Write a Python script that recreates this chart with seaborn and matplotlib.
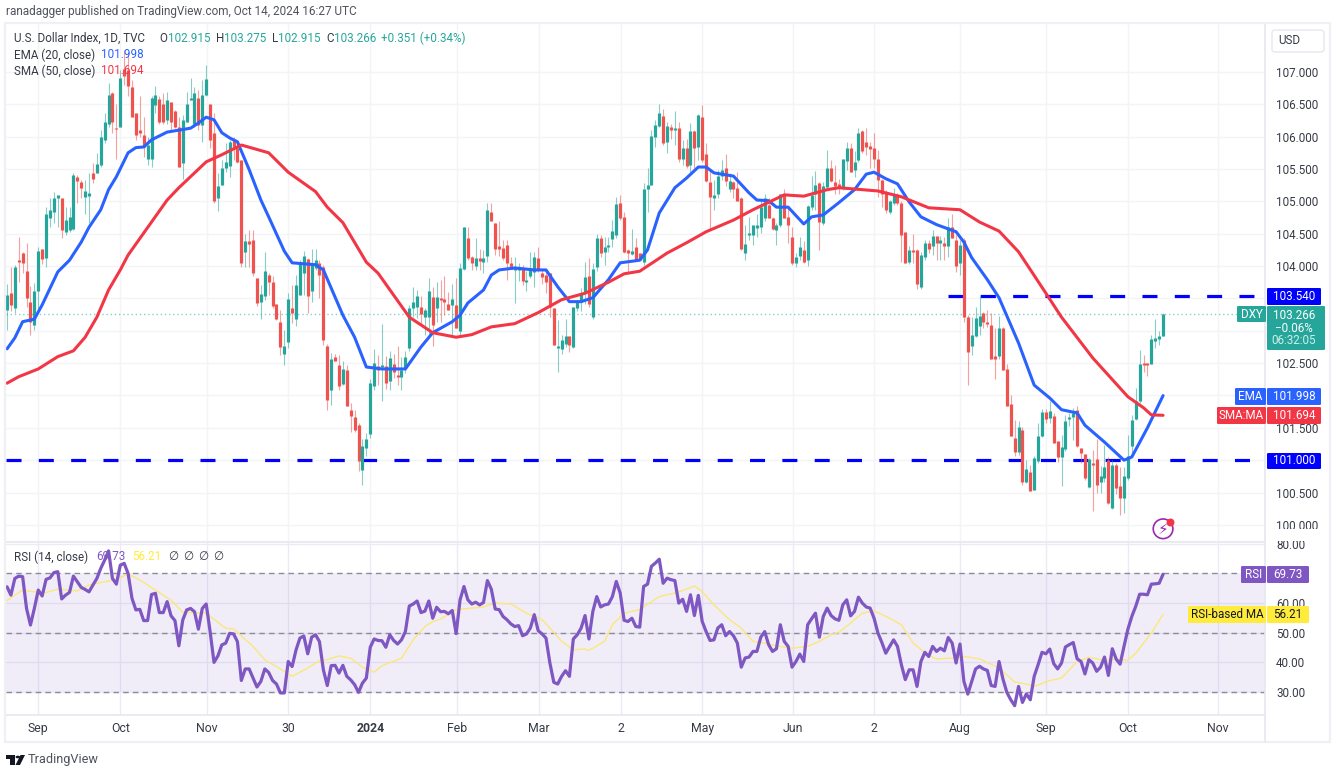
import numpy as np
import pandas as pd
import matplotlib
matplotlib.use("Agg")
import matplotlib.pyplot as plt
import seaborn as sns
from matplotlib.lines import Line2D
from matplotlib.patches import Circle, FancyBboxPatch, Polygon, Rectangle

W, H = 1339, 775

opens = [
    103.32,103.58,103.35,104.10,104.20,103.92,103.45,103.09,103.61,104.27,
    104.12,104.74,104.84,105.06,105.05,104.53,104.56,104.58,105.38,105.30,
    105.07,105.10,105.43,105.43,105.56,105.94,106.20,106.67,106.14,106.15,
    107.05,107.03,106.76,106.36,106.09,106.02,105.66,105.66,106.49,106.58,
    106.51,106.26,106.53,106.40,106.15,105.59,106.23,106.58,106.20,106.59,
    106.18,106.65,106.50,106.05,105.05,105.25,105.51,105.54,105.95,105.82,
    105.64,104.21,104.37,104.41,103.81,103.45,103.53,103.86,103.76,103.42,
    103.13,102.64,102.82,103.35,103.18,103.56,103.89,104.11,103.62,103.97,
    104.05,103.98,102.77,102.09,102.59,102.47,102.18,102.40,101.77,101.66,
    101.55,100.85,101.19,101.41,102.14,102.46,102.44,102.45,102.22,102.48,
    102.30,102.29,102.42,102.73,103.35,103.37,103.37,103.22,103.22,103.52,
    103.35,103.50,103.49,103.42,103.40,103.40,102.99,103.95,104.44,104.14,
    104.00,104.13,104.07,104.16,104.84,104.66,104.29,104.28,104.33,104.04,
    103.95,103.94,103.96,103.76,103.84,103.91,104.13,103.90,103.86,103.89,
    103.35,102.74,102.72,102.80,102.92,102.75,103.35,103.45,103.58,103.85,
    103.22,103.99,104.43,104.21,104.30,104.42,104.48,104.97,104.76,104.25,
    104.20,104.29,104.20,104.07,105.19,105.25,106.00,106.16,106.32,105.92,
    106.13,106.11,106.13,105.66,105.82,105.56,106.09,105.84,106.31,105.73,
    105.30,105.06,105.12,105.39,105.52,105.19,105.30,105.20,105.05,104.20,
    104.48,104.48,104.60,104.61,104.74,104.95,104.74,104.56,104.63,105.11,
    104.76,104.45,104.04,104.16,104.25,104.09,104.92,105.12,105.28,104.66,
    105.22,105.51,105.30,105.27,105.20,105.63,105.83,105.48,105.64,106.08,
    105.92,105.85,105.83,105.66,105.33,105.15,104.84,104.97,105.10,104.98,
    104.53,104.07,104.25,104.25,103.68,104.14,104.35,104.31,104.46,104.36,
    104.35,104.31,104.61,104.41,104.05,104.41,103.22,102.77,102.92,103.07,
    103.27,103.14,103.09,102.61,102.61,103.05,102.41,101.87,101.34,101.12,
    101.47,100.67,100.81,100.54,100.98,101.37,101.74,101.65,101.68,101.29,
    101.05,101.17,101.63,101.67,101.77,101.19,101.10,100.58,100.96,101.02,
    100.67,100.72,101.01,100.26,100.93,100.60,100.42,100.72,101.22,101.63,
    101.91,102.49,102.49,102.48,102.86,102.87,102.915,
]
highs = [
    103.72,103.98,104.02,104.45,104.21,104.35,103.69,103.74,104.29,104.27,
    104.92,105.05,105.15,105.10,105.05,104.92,104.92,105.43,105.41,105.33,
    105.33,105.44,105.59,105.74,106.10,106.36,106.83,106.69,106.51,107.03,
    107.34,107.29,106.87,106.36,106.62,106.31,105.99,106.62,106.78,106.62,
    106.67,106.69,106.53,106.41,106.31,106.33,106.69,106.90,106.77,106.72,
    106.87,107.11,106.51,106.36,105.43,105.64,105.90,105.95,106.00,105.95,
    105.64,104.50,104.55,104.55,103.81,103.71,104.21,103.89,103.85,103.42,
    103.32,103.01,103.58,103.71,103.86,104.10,104.23,104.12,104.26,104.26,
    104.10,104.02,102.80,102.65,102.64,102.63,102.54,102.47,101.88,101.78,
    101.58,101.32,101.42,102.25,102.72,102.63,103.10,102.61,102.68,102.64,
    102.77,102.60,102.68,103.40,103.68,103.63,103.54,103.35,103.81,103.68,
    103.76,103.79,103.84,103.60,103.73,103.81,104.04,104.61,104.60,104.16,
    104.43,104.27,104.25,104.97,104.98,104.66,104.69,104.40,104.40,104.14,
    104.14,104.05,104.02,103.93,104.22,104.22,104.29,103.96,103.94,103.89,
    103.35,103.17,102.93,103.18,102.92,103.37,103.48,103.66,104.06,104.13,
    104.04,104.49,104.48,104.45,104.45,104.71,105.07,105.10,104.84,104.26,
    104.57,104.43,104.20,105.28,105.51,106.10,106.26,106.51,106.42,106.22,
    106.19,106.40,106.23,105.95,105.97,106.21,106.10,106.35,106.49,105.90,
    105.48,105.33,105.48,105.64,105.73,105.43,105.32,105.46,105.07,104.63,
    104.76,104.63,104.81,105.02,105.11,105.05,104.76,104.66,105.12,105.19,
    104.92,104.61,104.20,104.45,104.38,104.94,105.39,105.47,105.30,105.30,
    105.80,105.64,105.56,105.35,105.66,105.91,105.90,105.78,106.13,106.10,
    106.13,105.92,106.05,105.80,105.35,105.17,105.02,105.20,105.13,105.00,
    104.53,104.31,104.50,104.27,104.22,104.40,104.41,104.55,104.46,104.46,
    104.45,104.75,104.80,104.48,104.40,104.43,103.24,103.22,103.37,103.55,
    103.29,103.32,103.27,103.05,103.23,103.06,102.48,102.01,101.62,101.60,
    101.52,101.01,100.93,101.06,101.57,101.79,101.79,101.91,101.73,101.29,
    101.39,101.70,101.73,101.81,101.84,101.19,101.10,101.03,101.15,101.32,
    100.91,101.24,101.05,101.01,100.96,100.90,100.90,101.39,101.70,102.11,
    102.70,102.63,102.50,102.94,103.18,102.99,103.275,
]
lows = [
    103.01,103.30,103.27,103.75,103.89,103.37,102.94,103.01,103.32,104.03,
    103.99,104.61,104.66,104.61,104.43,104.48,104.53,104.56,104.97,105.05,
    104.81,104.66,105.28,105.43,105.53,105.90,106.15,106.05,105.66,106.15,
    106.80,106.62,106.31,105.95,106.00,105.69,105.56,105.53,106.36,106.20,
    106.20,106.20,106.08,106.13,105.53,105.35,106.23,106.57,106.15,106.10,
    105.92,106.62,105.82,104.97,104.85,105.25,105.46,105.38,105.64,105.59,
    103.99,103.99,103.99,103.84,103.38,103.18,103.48,103.56,103.35,103.17,
    102.63,102.47,102.73,103.12,103.08,103.56,103.56,103.27,103.44,103.94,
    103.50,102.78,101.78,101.85,102.53,102.09,102.16,101.83,101.43,101.44,
    100.84,100.62,101.06,101.34,102.08,102.16,101.91,102.10,102.09,102.27,
    102.16,102.09,102.34,102.68,103.22,103.19,103.09,102.93,102.93,102.77,
    103.14,103.14,103.24,103.32,102.93,103.04,102.91,103.94,104.09,103.94,
    103.94,103.94,103.90,104.07,104.69,104.17,104.16,104.09,103.78,103.95,
    103.43,103.77,103.71,103.61,103.81,103.68,103.91,103.73,103.59,103.22,
    102.78,102.37,102.64,102.75,102.67,102.74,103.30,103.30,103.42,103.37,
    103.18,103.92,104.14,104.02,104.22,104.30,104.43,104.71,104.20,103.91,
    104.17,104.09,104.09,104.02,104.84,105.25,105.84,106.15,105.87,105.74,
    105.97,105.87,105.61,105.56,105.51,105.43,105.51,105.64,105.61,105.30,
    104.56,104.87,105.05,105.33,105.23,105.15,105.05,105.00,104.25,104.09,
    104.40,104.33,104.45,104.51,104.69,104.74,104.56,104.33,104.61,104.74,
    104.35,104.02,103.99,104.09,104.04,104.00,104.87,104.87,104.25,104.63,
    105.20,105.30,105.12,105.12,105.17,105.48,105.46,105.38,105.61,105.74,
    105.71,105.51,105.51,105.07,104.92,104.82,104.80,104.94,104.94,104.07,
    104.04,104.03,104.04,103.65,103.65,104.09,104.20,104.17,104.10,104.09,
    104.09,104.14,104.43,103.91,103.86,103.14,102.16,102.63,102.91,102.93,
    103.04,103.06,102.57,102.26,102.57,102.39,101.83,101.37,101.06,101.08,
    100.61,100.65,100.52,100.54,100.96,101.36,101.57,101.57,101.26,100.97,
    100.60,101.14,101.53,101.31,101.21,100.96,100.70,100.57,100.21,100.50,
    100.49,100.67,100.33,100.24,100.47,100.16,100.18,100.70,101.06,101.62,
    101.88,102.37,102.30,102.48,102.73,102.78,102.915,
]
closes = [
    103.56,103.40,103.98,104.06,104.05,103.50,103.14,103.62,104.24,104.11,
    104.81,104.87,105.05,105.08,104.56,104.71,104.76,105.41,105.31,105.20,
    105.16,105.12,105.35,105.58,105.99,106.23,106.65,106.23,106.11,106.90,
    106.93,106.78,106.31,106.02,106.07,105.84,105.87,106.59,106.64,106.23,
    106.23,106.57,106.23,106.15,105.53,106.26,106.51,106.59,106.67,106.18,
    106.65,106.89,105.95,105.00,105.23,105.51,105.60,105.92,105.84,105.61,
    104.04,104.39,104.35,103.90,103.43,103.57,103.93,103.76,103.39,103.18,
    102.75,102.77,103.49,103.27,103.71,104.06,104.15,103.53,104.02,104.10,
    103.86,102.86,101.93,102.56,102.54,102.15,102.41,101.84,101.69,101.46,
    100.98,101.22,101.33,102.19,102.50,102.40,102.47,102.20,102.58,102.36,
    102.29,102.39,102.60,103.35,103.45,103.54,103.26,103.32,103.61,103.09,
    103.52,103.48,103.45,103.32,103.49,103.04,103.97,104.60,104.12,104.04,
    104.13,104.08,104.12,104.86,104.70,104.27,104.27,104.13,104.04,103.95,
    103.96,103.97,103.77,103.79,103.94,104.14,103.94,103.83,103.76,103.37,
    102.78,102.75,102.85,102.92,102.78,103.36,103.44,103.58,103.83,103.42,
    103.96,104.43,104.20,104.30,104.31,104.54,104.96,104.74,104.21,104.20,
    104.22,104.09,104.09,105.19,105.25,106.01,106.18,106.37,105.90,106.16,
    106.11,106.12,105.66,105.82,105.55,106.09,105.82,106.33,105.64,105.32,
    105.06,105.08,105.39,105.48,105.32,105.32,105.19,105.01,104.27,104.34,
    104.51,104.63,104.62,104.92,105.05,104.74,104.58,104.63,105.11,104.75,
    104.63,104.04,104.14,104.30,104.07,104.93,105.10,105.25,104.68,105.24,
    105.52,105.32,105.23,105.20,105.65,105.83,105.46,105.61,106.05,105.78,
    105.84,105.81,105.66,105.33,105.12,104.86,105.01,105.11,104.98,104.48,
    104.05,104.25,104.22,103.72,104.17,104.35,104.27,104.46,104.36,104.40,
    104.31,104.60,104.44,104.00,104.33,103.22,102.67,102.93,103.19,103.23,
    103.13,103.11,102.57,102.56,103.05,102.39,101.83,101.37,101.12,101.51,
    100.67,100.86,100.53,101.03,101.38,101.74,101.64,101.76,101.27,101.05,
    101.21,101.61,101.67,101.73,101.22,101.11,100.72,101.02,100.93,100.62,
    100.75,100.90,100.34,100.93,100.57,100.42,100.76,101.07,101.62,101.92,
    102.49,102.48,102.48,102.87,102.88,102.92,103.266,
]

ema_bars = [0,2,4,7,9,13,16,19,21,24,26,28,31,33,35,37,41,44,47,49,51,53,55,57,59,62,65,67,71,73,
            79,81,83,86,89,92,96,102,106,109,114,116,118,122,124,126,130,135,138,141,144,147,150,154,157,162,164,167,171,174,
            177,179,181,186,190,192,195,197,200,204,206,209,213,217,220,222,225,228,231,234,238,243,245,247,251,254,259,263,267,270,
            274,276,281,286,288,292,296]
ema_vals = [102.72,102.89,103.14,103.18,103.40,103.91,104.09,104.37,104.60,104.87,105.18,105.38,105.75,105.83,105.84,105.95,106.07,106.10,106.13,106.21,
            106.30,106.26,106.06,105.98,105.92,105.49,105.02,104.76,104.23,104.05,104.02,103.94,103.66,103.24,102.90,102.44,102.41,102.41,102.75,102.97,
            103.14,103.24,103.43,103.63,103.86,103.94,103.97,103.94,103.94,103.68,103.45,103.45,103.51,103.79,104.05,104.09,104.25,104.82,105.21,105.36,
            105.53,105.53,105.44,105.39,105.13,105.02,105.01,104.91,104.91,104.65,104.76,104.79,104.98,105.18,105.42,105.45,105.35,105.27,104.99,104.76,
            104.64,104.53,104.37,104.13,103.79,103.51,102.81,102.16,101.96,101.78,101.73,101.54,101.28,101.00,101.05,101.50,101.998]

sma_bars = [0,3,8,13,17,20,23,26,29,31,35,41,44,51,55,60,67,72,79,82,86,92,95,101,103,109,115,119,124,130,
            136,142,148,154,158,162,169,174,179,186,191,199,204,210,213,223,229,236,244,249,254,259,266,270,278,287,291,293,296]
sma_vals = [102.19,102.29,102.41,102.60,102.69,102.90,103.21,103.63,103.94,104.17,104.51,105.02,105.21,105.61,105.72,105.87,105.75,105.45,105.15,104.91,
            104.67,104.06,103.89,103.38,103.21,102.97,102.90,102.94,103.06,103.11,103.28,103.48,103.58,103.75,103.88,103.92,104.20,104.36,104.53,104.71,
            104.87,105.10,105.08,105.18,105.21,105.16,105.07,104.90,104.87,104.68,104.54,104.22,103.58,103.21,102.58,101.98,101.81,101.70,101.694]

rsi_vals = [
    65.5,62.7,68.3,69.1,68.9,58.2,52.6,58.2,64.4,62.4,
    68.0,68.5,70.3,70.6,61.4,62.7,63.6,69.1,67.2,65.3,
    64.6,63.8,66.1,68.3,71.7,74.5,77.6,68.3,66.4,72.8,
    73.4,70.0,61.6,57.7,57.9,54.1,54.1,62.9,63.3,56.8,
    56.8,60.5,55.7,54.1,45.6,54.3,57.7,58.2,57.1,51.2,
    58.2,59.7,50.4,40.0,42.2,45.9,46.5,49.8,49.6,47.0,
    33.9,37.8,37.8,34.7,31.7,33.6,37.8,36.6,33.9,32.7,
    29.7,29.7,40.3,38.6,44.2,48.2,48.9,42.9,48.5,49.3,
    47.0,37.5,32.2,38.9,39.0,36.4,39.0,35.3,34.1,32.5,
    29.9,33.0,34.7,45.1,47.9,47.4,47.3,45.1,49.3,47.4,
    46.2,47.6,50.4,59.0,59.7,60.7,56.8,57.3,60.7,54.9,
    58.6,57.1,57.2,56.4,57.5,49.7,61.1,65.6,61.1,59.7,
    60.3,59.4,60.2,67.6,64.7,58.0,57.8,55.5,54.4,53.0,
    52.1,52.4,49.0,49.6,51.6,56.1,50.7,49.6,48.2,39.8,
    33.3,32.7,35.3,37.2,35.3,47.9,49.3,51.6,55.8,47.9,
    57.2,62.2,58.7,59.4,59.7,62.2,67.3,63.4,54.2,53.8,
    54.9,52.1,51.9,65.6,66.4,72.4,73.5,74.8,66.7,68.4,
    67.9,67.6,60.0,61.3,57.2,62.8,55.8,62.6,53.8,50.4,
    47.4,47.6,51.6,52.7,49.0,50.4,49.0,46.5,38.4,41.5,
    41.8,43.7,43.7,48.5,50.4,46.0,43.7,44.6,52.7,47.1,
    45.4,38.4,40.3,42.8,40.3,52.7,54.7,56.6,48.5,55.5,
    58.3,55.8,54.7,54.2,59.4,61.1,55.7,57.2,62.0,60.0,
    58.7,58.3,54.9,49.9,46.7,43.1,45.4,47.6,45.4,39.2,
    34.2,37.5,37.5,31.9,40.3,43.4,42.0,45.4,43.7,44.8,
    43.9,48.4,46.5,39.8,46.2,33.6,29.3,33.6,37.8,38.7,
    37.8,37.3,32.2,31.9,40.3,34.4,29.9,27.4,25.4,31.9,
    26.5,29.4,27.4,35.3,39.2,43.4,42.9,44.5,39.6,37.8,
    39.8,45.2,46.0,46.7,41.2,40.3,36.1,40.9,39.8,37.0,
    38.4,41.8,35.6,44.6,41.1,39.4,45.4,51.2,55.5,58.9,
    63.0,63.0,62.8,66.4,66.5,66.7,69.73,
]

rsi_ma_bars = [0,2,4,7,10,13,18,21,25,28,31,34,38,42,45,51,56,58,63,66,69,73,77,80,82,85,88,91,94,96,
               101,104,107,109,111,115,122,125,129,133,137,139,142,145,148,149,153,155,158,162,167,171,174,176,178,181,185,188,191,194,
               197,201,205,208,211,213,216,219,222,226,229,232,236,238,243,245,249,254,258,261,263,267,270,274,277,281,284,287,289,293,296]
rsi_ma_vals = [60.8,62.7,64.4,63.8,63.6,64.7,64.1,66.1,67.2,68.0,69.8,67.8,64.4,61.0,56.9,56.6,51.5,51.3,45.4,40.9,
               38.6,35.3,38.1,40.6,40.9,42.2,41.4,38.4,36.7,38.9,41.4,47.6,52.1,53.8,54.6,57.8,58.7,60.0,59.7,56.6,
               54.4,51.6,47.1,44.3,44.5,44.0,47.1,52.7,56.6,57.8,62.2,63.4,64.7,65.8,63.9,59.4,54.4,51.6,47.1,46.5,
               45.6,44.8,45.4,47.1,49.3,50.1,53.3,56.6,57.4,54.9,52.7,46.5,42.2,41.2,41.5,42.0,41.2,38.1,33.4,32.7,
               31.9,33.9,34.7,40.3,41.7,40.7,41.1,40.7,43.1,49.9,56.21]

price_ticks = [100.0,100.5,101.0,101.5,102.0,102.5,103.0,103.5,104.0,104.5,105.0,105.5,106.0,106.5,107.0]
hidden_price_ticks = [101.0, 102.0, 103.0, 103.5]
rsi_ticks = [30, 40, 50, 60, 80]
time_ticks = [8, 29, 51.2, 72, 93, 115.2, 136.2, 157.2, 178, 201.2, 222, 244, 266, 287, 310]
time_labels = ["Sep", "Oct", "Nov", "30", "2024", "Feb", "Mar", "2", "May", "Jun", "2", "Aug", "Sep", "Oct", "Nov"]

UP = "#26a69a"
DOWN = "#ef5350"
EMA_COL = "#2962ff"
SMA_COL = "#f23645"
RSI_COL = "#7e57c2"
MA_COL = "#ffeb3b"
LEVEL = "#0000ff"
GRID = "#f3f4f8"
BORDER = "#e6e8ef"
TXT = "#363a45"
FONT = ["Roboto", "DejaVu Sans"]
SIZE = 8.4

sns.set_theme(style="white")
plt.rcParams["font.family"] = FONT


def plot_candles(ax):
    o, h, l, c = map(np.array, (opens, highs, lows, closes))
    x = np.arange(len(o))
    cols = np.where(c >= o, UP, DOWN)
    ax.vlines(x, l, h, colors=cols, linewidth=0.8, alpha=0.55, zorder=3)
    top = np.maximum(o, c)
    bot = np.minimum(o, c)
    thin = top - bot < 0.025
    top = np.where(thin, top + 0.012, top)
    bot = np.where(thin, bot - 0.012, bot)
    ax.vlines(x, bot, top, colors=cols, linewidth=2.3, zorder=4)


def flag(x0, y0, x1, y1, color):
    fig.add_artist(FancyBboxPatch((x0 / W, 1 - y1 / H), (x1 - x0) / W, (y1 - y0) / H, transform=fig.transFigure,
                                  boxstyle="round,pad=0,rounding_size=0.0012", facecolor=color, edgecolor="none", zorder=5))


def label(x, y, s, color=TXT, size=SIZE, ha="left", **kw):
    fig.text(x / W, 1 - y / H, s, color=color, fontsize=size, ha=ha, va="center", zorder=6, **kw)


fig = plt.figure(figsize=(W / 100, H / 100), dpi=100, facecolor="white")
ax = fig.add_axes([6 / W, 1 - 542 / H, 1259 / W, 518 / H])
ax_rsi = fig.add_axes([6 / W, 1 - 715 / H, 1259 / W, 172 / H], sharex=ax)

# price pane
ax.set_xlim(-0.26, 322.1)
ax.set_ylim(99.736, 107.74)
ax.grid(True, color=GRID, linewidth=1, zorder=0)
level_df = pd.DataFrame({"x": [-0.26, 322.1, 241, 322.1], "y": [101.0, 101.0, 103.54, 103.54], "level": ["a", "a", "b", "b"]})
sns.lineplot(data=level_df, x="x", y="y", units="level", estimator=None, color=LEVEL, linewidth=2.3,
             dashes=False, ax=ax, zorder=2)
for ln in ax.lines:
    ln.set_dashes((4.7, 5.42))
ax.axhline(103.266, color=UP, linewidth=1, linestyle=(0, (1, 2)), alpha=0.55, zorder=2)
plot_candles(ax)
sns.lineplot(x=ema_bars, y=ema_vals, color=EMA_COL, linewidth=2.2, estimator=None, ax=ax, zorder=5)
sns.lineplot(x=sma_bars, y=sma_vals, color=SMA_COL, linewidth=2.2, estimator=None, ax=ax, zorder=5)
ax.scatter([296], [99.94], s=200, facecolors="none", edgecolors="#9c27b0", linewidths=1.2, zorder=6)
ax.scatter([297.8], [100.05], s=22, color=SMA_COL, zorder=7)
ax.text(296, 99.94, "\u26a1", color="#9c27b0", fontsize=11, family="DejaVu Sans", ha="center", va="center", zorder=6)

ax.yaxis.tick_right()
ax.set_yticks(price_ticks)
ax.set_yticklabels(["" if t in hidden_price_ticks else f"{t:.3f}" for t in price_ticks])
ax.tick_params(axis="y", length=0, labelsize=SIZE, pad=8, labelcolor=TXT)
ax.tick_params(axis="x", length=0, labelbottom=False)
ax.set_xlabel("")
ax.set_ylabel("")

# rsi pane
ax_rsi.set_ylim(22.26, 80.27)
ax_rsi.axhspan(30, 70, color=RSI_COL, alpha=0.1, linewidth=0, zorder=1)
ax_rsi.grid(True, color="#eceaf4", linewidth=1, zorder=1.5)
for lvl in (30, 50, 70):
    ax_rsi.axhline(lvl, color="#8a8d96", linewidth=1, linestyle=(0, (4, 3)), zorder=2)
sns.lineplot(x=rsi_ma_bars, y=rsi_ma_vals, color="#fbe77a", linewidth=1, estimator=None, ax=ax_rsi, zorder=3)
sns.lineplot(x=np.arange(len(rsi_vals)), y=rsi_vals, color=RSI_COL, linewidth=2.3, estimator=None, ax=ax_rsi, zorder=4)
ax_rsi.yaxis.tick_right()
ax_rsi.set_yticks(rsi_ticks)
ax_rsi.set_yticklabels([f"{t}.00" for t in rsi_ticks])
ax_rsi.tick_params(axis="y", length=0, labelsize=SIZE, pad=8, labelcolor=TXT)
ax_rsi.set_xticks(time_ticks)
ax_rsi.set_xticklabels(time_labels)
ax_rsi.get_xticklabels()[4].set_fontweight("bold")
ax_rsi.tick_params(axis="x", length=0, labelsize=SIZE + 0.4, pad=5, labelcolor=TXT)
ax.grid(True, axis="x", color=GRID, linewidth=1)
ax_rsi.set_xlabel("")
ax_rsi.set_ylabel("")

for a in (ax, ax_rsi):
    for name, sp in a.spines.items():
        sp.set_visible(name in ("right", "bottom"))
        sp.set_color(BORDER)
        sp.set_linewidth(1.2)

# hide the cut off part of the 80.00 label
fig.add_artist(Rectangle((1268 / W, 1 - 541 / H), 60 / W, 12 / H, transform=fig.transFigure,
                         facecolor="white", edgecolor="none", zorder=3))

# outer frame
fig.add_artist(Rectangle((5 / W, 1 - 742 / H), 1325 / W, 719 / H, transform=fig.transFigure,
                         facecolor="none", edgecolor="#eef0f5", linewidth=1.6, zorder=4))
fig.add_artist(Line2D([1265 / W, 1265 / W], [1 - 742 / H, 1 - 715 / H], color=BORDER, linewidth=1.2, zorder=4))

# header and legend text
label(6, 11, "ranadagger published on TradingView.com, Oct 14, 2024 16:27 UTC", color="#50535e", size=8.5)
label(14, 38, "U.S. Dollar Index, 1D, TVC")
for x, s in [(159, "O"), (216, "H"), (272, "L"), (326, "C")]:
    label(x, 38, s)
for x, s in [(168, "102.915"), (224, "103.275"), (278, "102.915"), (334, "103.266"), (381, "+0.351 (+0.34%)")]:
    label(x, 38, s, color=UP)
label(14, 55, "EMA (20, close)")
label(101, 55, "101.998", color=EMA_COL)
label(14, 71, "SMA (50, close)")
label(101, 71, "101.694", color=SMA_COL)
label(14, 557, "RSI (14, close)")
label(96, 557, "69.73", color=RSI_COL)
label(132, 557, "56.21", color=MA_COL)
for x in (168, 183, 198, 213):
    label(x, 557, "\u2205")

# usd button
fig.add_artist(FancyBboxPatch((1272 / W, 1 - 52 / H), 52 / W, 22 / H, transform=fig.transFigure,
                              boxstyle="round,pad=0,rounding_size=0.003", facecolor="white",
                              edgecolor=BORDER, linewidth=1, zorder=5))
label(1278, 41, "USD")

# price scale flags
flag(1267, 288, 1321, 305, LEVEL)
label(1294, 296.5, "103.540", color="white", ha="center")
flag(1237, 306, 1266, 322, UP)
label(1251.5, 314, "DXY", color="white", ha="center")
flag(1267, 306, 1325, 350, UP)
label(1294, 315, "103.266", color="white", ha="center")
label(1294, 328, "\u22120.06%", color="white", ha="center")
label(1294, 341, "06:32:05", color="#cfeeea", ha="center")
flag(1235, 388, 1266, 405, EMA_COL)
label(1250.5, 396.5, "EMA", color="white", ha="center")
flag(1267, 388, 1321, 405, EMA_COL)
label(1294, 396.5, "101.998", color="white", ha="center")
flag(1217, 407, 1266, 424, SMA_COL)
label(1241.5, 415.5, "SMA:MA", color="white", ha="center")
flag(1267, 407, 1321, 424, SMA_COL)
label(1294, 415.5, "101.694", color="white", ha="center")
flag(1267, 453, 1321, 469, LEVEL)
label(1294, 461, "101.000", color="white", ha="center")
flag(1241, 566, 1266, 583, RSI_COL)
label(1253.5, 574.5, "RSI", color="white", ha="center")
flag(1267, 566, 1309, 583, RSI_COL)
label(1288, 574.5, "69.73", color="white", ha="center")
flag(1188, 606, 1266, 623, MA_COL)
label(1227, 614.5, "RSI-based MA", color="#131722", ha="center")
flag(1267, 606, 1309, 623, MA_COL)
label(1288, 614.5, "56.21", color="#131722", ha="center")

# footer logo
LOGO = "#131722"
fig.add_artist(Polygon([(6 / W, 1 - 755 / H), (15 / W, 1 - 755 / H), (15 / W, 1 - 765 / H), (10 / W, 1 - 765 / H),
                        (10 / W, 1 - 759 / H), (6 / W, 1 - 759 / H)], transform=fig.transFigure, facecolor=LOGO, edgecolor="none"))
fig.add_artist(Circle((17.8 / W, 1 - 757 / H), 0.0017, transform=fig.transFigure, facecolor=LOGO, edgecolor="none"))
fig.add_artist(Polygon([(20.5 / W, 1 - 755 / H), (25 / W, 1 - 755 / H), (20 / W, 1 - 765 / H), (15.5 / W, 1 - 765 / H)],
                       transform=fig.transFigure, facecolor=LOGO, edgecolor="none"))
label(28, 760, "TradingView", color="#50535e", size=9.2)

fig.savefig("out.png", dpi=100, facecolor="white")
plt.close(fig)
